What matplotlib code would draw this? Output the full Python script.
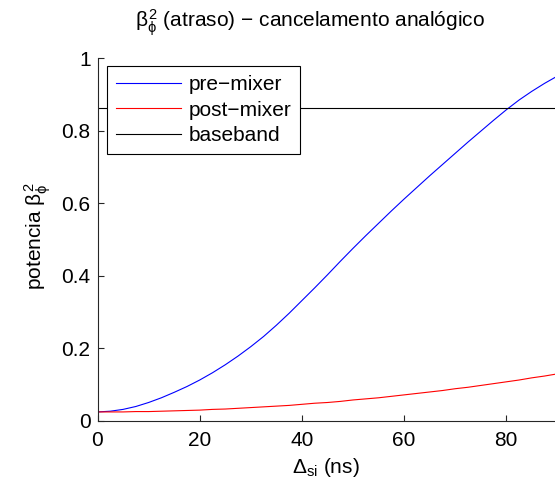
import matplotlib
matplotlib.use("Agg")
import matplotlib.pyplot as plt
import numpy as np

#---------------------------------------------------------------------------------------------------
# Dados (potência vs atraso)
atraso_ns = [0, 2.5, 5, 7.5, 10, 12.5, 15, 17.5, 20, 22.5, 25, 27.5, 30, 32.5, 35, 37.5,
             40, 42.5, 45, 47.5, 50, 52.5, 55, 57.5, 60, 62.5, 65, 67.5, 70, 72.5, 75,
             77.5, 80, 82.5, 85, 87.5, 90]

pre_mixer = [0.025, 0.027, 0.032, 0.040, 0.051, 0.064, 0.079, 0.095, 0.113, 0.133,
             0.155, 0.179, 0.205, 0.233, 0.264, 0.297, 0.332, 0.367, 0.403, 0.440,
             0.476, 0.511, 0.545, 0.579, 0.612, 0.644, 0.676, 0.707, 0.738, 0.769,
             0.799, 0.829, 0.858, 0.885, 0.909, 0.931, 0.951]

post_mixer = [0.025, 0.025, 0.025, 0.026, 0.026, 0.027, 0.028, 0.029, 0.030, 0.032,
              0.033, 0.035, 0.037, 0.039, 0.041, 0.043, 0.046, 0.049, 0.051, 0.054,
              0.058, 0.061, 0.064, 0.068, 0.072, 0.076, 0.080, 0.084, 0.089, 0.093,
              0.098, 0.103, 0.108, 0.113, 0.119, 0.124, 0.130]

baseband = 0.864

legenda = ["pre\u2212mixer", "post\u2212mixer", "baseband"]

#---------------------------------------------------------------------------------------------------
# Estilo
plt.rcParams["font.family"] = ["Liberation Sans", "DejaVu Sans"]
plt.rcParams["mathtext.fontset"] = "custom"
plt.rcParams["mathtext.rm"] = "Liberation Sans"
plt.rcParams["mathtext.it"] = "Liberation Sans"
plt.rcParams["font.size"] = 15

cor_eixo = "#262626"

fig = plt.figure(figsize=(5.55, 4.83), dpi=100)
ax = fig.add_axes([97.5 / 555, 1 - 421 / 483, 511 / 555, (421 - 58.3) / 483])

ax.plot(atraso_ns, pre_mixer, color="blue", lw=0.8, label=legenda[0])
ax.plot(atraso_ns, post_mixer, color="red", lw=0.8, label=legenda[1])
ax.plot([0, 100], [baseband, baseband], color="black", lw=0.8, label=legenda[2])

ax.set_xlim(0, 100)
ax.set_ylim(0, 1)
ax.set_xticks([0, 20, 40, 60, 80])
ax.set_yticks([0, 0.2, 0.4, 0.6, 0.8, 1])
ax.set_yticklabels(["0", "0.2", "0.4", "0.6", "0.8", "1"])

for lado in ["top", "right"]:
    ax.spines[lado].set_visible(False)
for lado in ["left", "bottom"]:
    ax.spines[lado].set_color(cor_eixo)
    ax.spines[lado].set_linewidth(0.8)
ax.tick_params(direction="in", length=4, width=0.8, color=cor_eixo, labelcolor="black", pad=5)
ax.tick_params(axis="x", pad=7)

# título e rótulos posicionados em coordenadas da figura
fig.text(309.5 / 555, 1 - 27 / 483, r"$\beta_{\phi}^{2}$ (atraso) $-$ cancelamento analógico",
         ha="center", va="baseline", fontsize=15)
ax.set_xlabel(r"$\Delta_{\rm si}$ (ns)", fontsize=15)
ax.xaxis.set_label_coords(326 / 555, 1 - 456 / 483, transform=fig.transFigure)
ax.set_ylabel(r"potencia $\beta_{\phi}^{2}$", fontsize=15)
ax.yaxis.set_label_coords(53 / 555, 1 - 236 / 483, transform=fig.transFigure)

leg = ax.legend(loc="upper left", bbox_to_anchor=(107 / 555, 1 - 66 / 483),
                bbox_transform=fig.transFigure, borderaxespad=0, fancybox=False,
                edgecolor="black", framealpha=1, handlelength=3.1, handletextpad=0.35,
                labelspacing=0.3, borderpad=0.45, fontsize=15)
leg.get_frame().set_linewidth(0.8)

fig.savefig("out.png", dpi=100)
